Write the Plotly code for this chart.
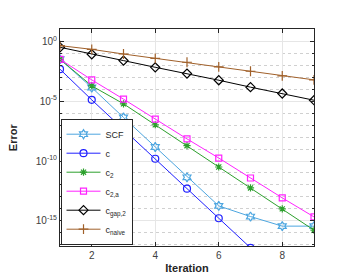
import plotly.graph_objects as go

iterations = [1, 2, 3, 4, 5, 6, 7, 8, 9]
log_scf = [-1.5, -3.86, -6.36, -8.83, -11.36, -13.75, -14.64, -15.44, -15.44]
log_c = [-2.33, -4.89, -7.36, -9.81, -12.31, -14.78, -17.25]
log_c2 = [-1.5, -3.72, -5.22, -6.97, -8.72, -10.5, -12.25, -14.0, -15.78]
log_c2a = [-1.5, -3.22, -4.83, -6.5, -8.15, -9.75, -11.42, -13.08, -14.67]
log_gap2 = [-0.5, -1.08, -1.61, -2.17, -2.69, -3.25, -3.83, -4.36, -4.92]
log_naive = [-0.36, -0.67, -1.06, -1.42, -1.75, -2.14, -2.5, -2.89, -3.22]

names = ["SCF", "c", "c<sub>2</sub>", "c<sub>2,a</sub>", "c<sub>gap,2</sub>", "c<sub>naive</sub>"]
series = [log_scf, log_c, log_c2, log_c2a, log_gap2, log_naive]
colors = ["#4da6e0", "#2020ff", "#2ca02c", "#ff22ff", "#000000", "#a0602a"]
symbols = ["hexagram-open", "circle-open", "asterisk-open", "square-open", "diamond-open", "cross-thin-open"]
sizes = [7, 7, 6, 6, 7, 7]

y_tickvals = [1e0, 1e-5, 1e-10, 1e-15]
y_ticktext = ["10<sup>0</sup>", "10<sup>-5</sup>", "10<sup>-10</sup>", "10<sup>-15</sup>"]
y_minor = [10.0 ** k for k in range(-17, 2) if k % 5 != 0]
x_tickvals = [2, 4, 6, 8]

fig = go.Figure()
for name, vals, col, sym, sz in zip(names, series, colors, symbols, sizes):
    fig.add_trace(go.Scatter(
        x=iterations[:len(vals)], y=[10.0 ** v for v in vals],
        mode="lines+markers", name=name,
        line=dict(color=col, width=1),
        marker=dict(symbol=sym, size=sz, color=col, line=dict(color=col, width=1.2)),
    ))

fig.update_layout(
    width=338, height=273,
    margin=dict(l=52, r=32, t=21, b=35),
    paper_bgcolor="white", plot_bgcolor="white",
    font=dict(family="Liberation Sans, Arial, sans-serif", size=10, color="#404040"),
    showlegend=True,
    legend=dict(x=0.002, y=0.006, xanchor="left", yanchor="bottom",
                bgcolor="white", bordercolor="#262626", borderwidth=1,
                font=dict(size=9, color="#262626"),
                itemwidth=34, tracegroupgap=0),
    annotations=[dict(text="<b>Error</b>", textangle=-90, xref="paper", yref="paper",
                      x=-0.155, y=0.5, xanchor="right", yanchor="middle", showarrow=False,
                      font=dict(size=11, color="#262626"))],
)
fig.update_xaxes(
    range=[1, 9], tickvals=x_tickvals,
    showgrid=True, gridcolor="#e6e6e6", gridwidth=1,
    showline=True, linecolor="#262626", linewidth=1, mirror="allticks",
    ticks="inside", ticklen=4, tickcolor="#262626",
    zeroline=False, automargin=False,
    title=dict(text="<b>Iteration</b>", font=dict(size=11, color="#262626"), standoff=4),
)
fig.update_yaxes(
    type="log", range=[-17.1, 1.03],
    tickvals=y_tickvals, ticktext=y_ticktext,
    showgrid=True, gridcolor="#e6e6e6", gridwidth=1,
    minor=dict(tickvals=y_minor, showgrid=True, gridcolor="#d0d0d0", griddash="dot",
               ticks="inside", ticklen=2, tickcolor="#262626"),
    showline=True, linecolor="#262626", linewidth=1, mirror="allticks",
    ticks="inside", ticklen=4, tickcolor="#262626",
    zeroline=False, automargin=False,
)

fig.write_html("out.html")
